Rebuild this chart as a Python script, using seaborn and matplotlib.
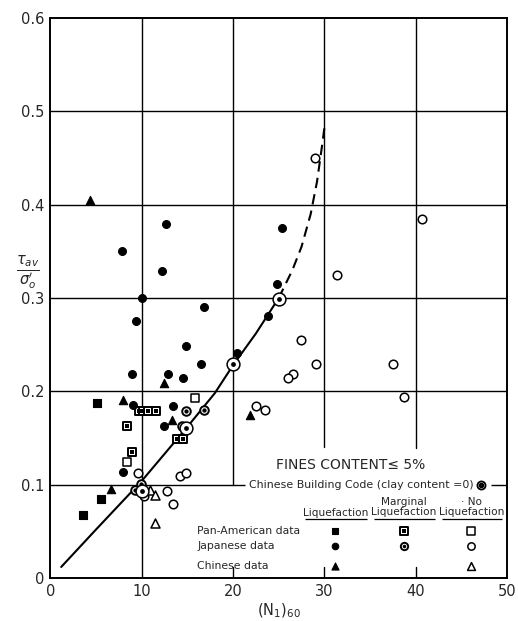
"""
Cyclic stress ratio vs (N1)60 for clean sands (fines content <= 5%).
"""

import numpy as np
import pandas as pd
import matplotlib
matplotlib.use('Agg')
import matplotlib.pyplot as plt
import seaborn as sns

sns.set_style('white')
plt.rcParams['font.family'] = ['DejaVu Sans']

# --- data ------------------------------------------------------------------
jp_liq_n = [7.9, 12.7, 12.2, 10.0, 16.8, 23.8, 9.4, 14.9, 16.5, 20.4, 8.9, 12.9,
            14.5, 9.1, 13.4, 12.4, 8.0, 25.4, 24.8]
jp_liq_r = [0.350, 0.379, 0.329, 0.300, 0.290, 0.281, 0.275, 0.249, 0.229, 0.241,
            0.219, 0.219, 0.214, 0.185, 0.184, 0.163, 0.114, 0.375, 0.315]
jp_marg_n = [14.9, 16.8, 14.4, 9.9, 9.3]
jp_marg_r = [0.179, 0.180, 0.163, 0.101, 0.094]
jp_no_n = [29.0, 31.4, 40.7, 27.4, 29.1, 26.6, 26.0, 37.5, 38.7, 22.5, 23.5,
           9.6, 14.2, 14.9, 12.8, 13.4, 10.3]
jp_no_r = [0.450, 0.325, 0.385, 0.255, 0.229, 0.219, 0.214, 0.229, 0.194, 0.184,
           0.180, 0.113, 0.109, 0.113, 0.093, 0.079, 0.088]

pa_liq_n = [5.1, 5.6, 3.6]
pa_liq_r = [0.188, 0.085, 0.068]
pa_marg_n = [8.4, 9.7, 10.2, 10.7, 11.6, 8.9, 13.9, 14.5]
pa_marg_r = [0.163, 0.179, 0.179, 0.179, 0.179, 0.135, 0.149, 0.149]
pa_no_n = [15.8, 8.4]
pa_no_r = [0.193, 0.124]

cn_liq_n = [4.3, 12.4, 8.0, 13.3, 6.7, 21.9]
cn_liq_r = [0.405, 0.209, 0.191, 0.169, 0.096, 0.175]
cn_no_n = [10.9, 11.5, 11.5]
cn_no_r = [0.094, 0.089, 0.059]

cbc_n = [10.0, 14.9, 20.0, 25.0]
cbc_r = [0.093, 0.161, 0.229, 0.299]

curve_n = [1.2, 5.0, 10.0, 15.0, 18.0, 20.0, 22.5, 25.0]
curve_r = [0.012, 0.052, 0.104, 0.162, 0.198, 0.228, 0.262, 0.300]
dash_n = [25.0, 26.5, 27.5, 28.5, 29.2, 29.7, 30.0]
dash_r = [0.300, 0.330, 0.355, 0.390, 0.425, 0.460, 0.482]

x_ticks = [0, 10, 20, 30, 40, 50]
y_ticks = [0, 0.1, 0.2, 0.3, 0.4, 0.5, 0.6]
y_tick_labels = ['0', '0.1', '0.2', '0.3', '0.4', '0.5', '0.6']

# legend table layout (data coords)
legend_cols = [31.2, 38.7, 46.1]
legend_rows = [0.051, 0.034, 0.013]

fig = plt.figure(figsize=(5.18, 6.21), dpi=100)
ax = fig.add_axes([0.097, 0.069, 0.882, 0.902])


def pts(xs, ys, kind, marker, size=30):
    df = pd.DataFrame({'n': xs, 'r': ys})
    if kind == 'liq':
        sns.scatterplot(data=df, x='n', y='r', marker=marker, s=size, color='black',
                        edgecolor='black', linewidth=0.8, ax=ax, zorder=4)
    elif kind == 'marg':
        sns.scatterplot(data=df, x='n', y='r', marker=marker, s=size + 6, color='white',
                        edgecolor='black', linewidth=1.4, ax=ax, zorder=4)
        sns.scatterplot(data=df, x='n', y='r', marker=marker, s=size * 0.3, color='black',
                        edgecolor='black', linewidth=0, ax=ax, zorder=5)
    else:
        sns.scatterplot(data=df, x='n', y='r', marker=marker, s=size + 6, color='white',
                        edgecolor='black', linewidth=1.1, ax=ax, zorder=4)


# grid (partial lines, as drawn in the original)
gkw = dict(color='black', lw=1.0, zorder=1)
ax.axvline(10, **gkw)
ax.axvline(20, ymin=0.1 / 0.6, ymax=1, **gkw)
ax.axvline(30, ymin=0.141 / 0.6, ymax=1, **gkw)
ax.axvline(40, ymin=0.139 / 0.6, ymax=1, **gkw)
for xv in [20, 30, 40]:
    ax.axvline(xv, ymin=0, ymax=0.02, **gkw)
for yv in [0.2, 0.3, 0.4, 0.5]:
    ax.axhline(yv, **gkw)
ax.hlines(0.1, 0, 21.3, **gkw)
ax.hlines(0.1, 48.2, 50, **gkw)

# boundary curve
sns.lineplot(x=curve_n, y=curve_r, sort=False, color='black', lw=1.5, ax=ax, zorder=3)
sns.lineplot(x=dash_n, y=dash_r, sort=False, color='black', lw=1.5, ax=ax, zorder=3,
             dashes=False, linestyle=(0, (5, 3)))

# data points
pts(pa_liq_n, pa_liq_r, 'liq', 's', 28)
pts(pa_marg_n, pa_marg_r, 'marg', 's', 28)
pts(pa_no_n, pa_no_r, 'no', 's', 28)
pts(jp_liq_n, jp_liq_r, 'liq', 'o', 32)
pts(jp_marg_n, jp_marg_r, 'marg', 'o', 32)
pts(jp_no_n, jp_no_r, 'no', 'o', 32)
pts(cn_liq_n, cn_liq_r, 'liq', '^', 36)
pts(cn_no_n, cn_no_r, 'no', '^', 36)

cbc_df = pd.DataFrame({'n': cbc_n, 'r': cbc_r})
sns.scatterplot(data=cbc_df, x='n', y='r', marker='o', s=85, color='white',
                edgecolor='black', linewidth=1.1, ax=ax, zorder=6)
sns.scatterplot(data=cbc_df, x='n', y='r', marker='o', s=12, color='black',
                edgecolor='black', linewidth=0, ax=ax, zorder=7)

# legend table
ax.text(32.9, 0.121, 'FINES CONTENT\u2264 5%', fontsize=10, ha='center', va='center')
ax.text(21.8, 0.100, 'Chinese Building Code (clay content =0)', fontsize=7.9,
        ha='left', va='center')
ax.scatter([47.1], [0.100], marker='o', s=34, facecolor='white', edgecolor='black',
           linewidth=1.3, zorder=6)
ax.scatter([47.1], [0.100], marker='o', s=9, color='black', zorder=7)

ax.text(legend_cols[0], 0.070, 'Liquefaction', fontsize=7.6, ha='center', va='center')
ax.text(legend_cols[1], 0.076, 'Marginal\nLiquefaction', fontsize=7.6, ha='center',
        va='center', linespacing=0.95)
ax.text(legend_cols[2], 0.076, '\u00b7 No\nLiquefaction', fontsize=7.6, ha='center',
        va='center', linespacing=0.95)
ax.hlines(0.0635, 27.9, 34.7, color='black', lw=0.9)
ax.hlines(0.0635, 35.4, 42.1, color='black', lw=0.9)
ax.hlines(0.0635, 42.9, 49.4, color='black', lw=0.9)

row_names = ['Pan-American data', 'Japanese data', 'Chinese data']
for name, yr in zip(row_names, legend_rows):
    ax.text(16.1, yr, name, fontsize=7.8, ha='left', va='center')

pts([legend_cols[0]], [legend_rows[0]], 'liq', 's', 22)
pts([legend_cols[1]], [legend_rows[0]], 'marg', 's', 22)
pts([legend_cols[2]], [legend_rows[0]], 'no', 's', 22)
pts([legend_cols[0]], [legend_rows[1]], 'liq', 'o', 22)
pts([legend_cols[1]], [legend_rows[1]], 'marg', 'o', 22)
pts([legend_cols[2]], [legend_rows[1]], 'no', 'o', 22)
pts([legend_cols[0]], [legend_rows[2]], 'liq', '^', 26)
pts([legend_cols[2]], [legend_rows[2]], 'no', '^', 26)

# axes
ax.set_xlim(0, 50)
ax.set_ylim(0, 0.6)
ax.set_xticks(x_ticks)
ax.set_yticks(y_ticks)
ax.set_yticklabels(y_tick_labels)
ax.tick_params(axis='both', length=0, labelsize=10.5, pad=4)
for sp in ax.spines.values():
    sp.set_color('black')
    sp.set_linewidth(1.4)
ax.set_xlabel(r'$(\mathrm{N_1})_{60}$', fontsize=10.5, labelpad=2)
ax.set_ylabel(r'$\frac{\tau_{av}}{\sigma_o^{\prime}}$', fontsize=15, rotation=0,
              labelpad=2)
ax.yaxis.set_label_coords(-0.05, 0.545)
ax.yaxis.label.set_va('center')

fig.savefig('out.png', dpi=100)
plt.close(fig)
